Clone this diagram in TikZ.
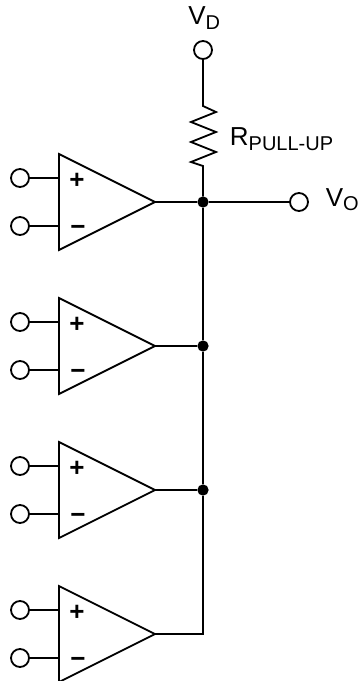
\documentclass[tikz,border=0pt]{standalone}
\usepackage{fontspec}
\setmainfont{Liberation Sans}
\tikzset{
  pin/.style={draw, circle, inner sep=0pt, minimum size=13.5pt, fill=white},
  junction/.style={draw, circle, fill=black, inner sep=0pt, minimum size=7pt},
  sign/.style={inner sep=0pt, font=\fontsize{19.5}{20}\selectfont\bfseries},
  lab/.style={inner sep=0pt, anchor=base west, font=\fontsize{19.5}{20}\selectfont}
}
\newcommand{\lowsub}[1]{\raisebox{-3.3pt}{\fontsize{15}{15}\selectfont #1}}
\begin{document}
\begin{tikzpicture}[x=0.75pt,y=-0.75pt,line width=1.35pt]
\useasboundingbox (0,0) rectangle (359,681);
% comparators
\foreach \i/\y in {1/202,2/346,3/490,4/634} {
  \draw [line join=miter] (59,\y-48)--(155,\y)--(59,\y+48)--cycle;
  \coordinate (out\i) at (155,\y);
  \coordinate (plus\i) at (59,\y-24);
  \coordinate (minus\i) at (59,\y+24);
  \node [pin] (inp\i) at (20,\y-24) {};
  \node [pin] (inm\i) at (20,\y+24) {};
  \draw (inp\i)--(plus\i);
  \draw (inm\i)--(minus\i);
  \node [sign] (sp\i) at (77,\y-21) {+};
  \node [sign] (sm\i) at (78,\y+28.5) {−};
}
% supply and pull-up
\node [pin] (vd) at (203,50) {};
\node [pin] (vo) at (299,202) {};
\node [junction] (dot1) at (203,202) {};
\node [junction] (dot2) at (203,346) {};
\node [junction] (dot3) at (203,490) {};
\coordinate (rtop) at (203,106);
\coordinate (rbot) at (203,166);
\coordinate (corner) at (203,634);
\draw (vd)--(rtop)--(216,112)--(191,122)--(216,132)--(191,142)--(216,152)--(191,162)--(rbot)--(dot1);
% output bus
\draw (out1)--(dot1)--(vo);
\draw (dot1)--(dot2)--(dot3)--(corner)--(out4);
\draw (out2)--(dot2);
\draw (out3)--(dot3);
% labels
\node [lab] (lvd) at (187.5,25) {V\lowsub{D}};
\node [lab] (lr) at (229,146) {R\lowsub{PULL-UP}};
\node [lab] (lvo) at (325,206) {V\lowsub{O}};
\end{tikzpicture}
\end{document}
